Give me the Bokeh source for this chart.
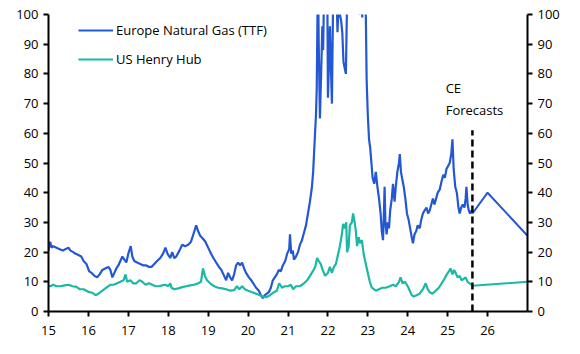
from bokeh.plotting import figure
from bokeh.models import Range1d, LinearAxis, FixedTicker, Legend, LegendItem
from bokeh.core.properties import value
from bokeh.embed import file_html
from bokeh.resources import INLINE

# ---- data (decimal years, EUR/MWh) ----
ttf_t = [2015.00, 2015.04, 2015.08, 2015.12, 2015.20, 2015.28, 2015.36, 2015.42, 2015.50, 2015.55,
         2015.62, 2015.67, 2015.75, 2015.82, 2015.88, 2015.95, 2016.02, 2016.08, 2016.15, 2016.22,
         2016.28, 2016.35, 2016.42, 2016.50, 2016.55, 2016.60, 2016.65, 2016.70, 2016.75, 2016.80,
         2016.85, 2016.90, 2016.95, 2017.00, 2017.06, 2017.10, 2017.15, 2017.22, 2017.30, 2017.38,
         2017.45, 2017.52, 2017.58, 2017.65, 2017.72, 2017.80, 2017.87, 2017.93, 2017.98, 2018.05,
         2018.10, 2018.15, 2018.20, 2018.28, 2018.35, 2018.42, 2018.50, 2018.57, 2018.63, 2018.70,
         2018.75, 2018.80, 2018.87, 2018.93, 2019.00, 2019.07, 2019.13, 2019.20, 2019.27, 2019.33,
         2019.40, 2019.45, 2019.50, 2019.55, 2019.60, 2019.65, 2019.70, 2019.75, 2019.80, 2019.85,
         2019.90, 2019.95, 2020.02, 2020.08, 2020.13, 2020.20, 2020.27, 2020.32, 2020.37, 2020.42,
         2020.47, 2020.52, 2020.57, 2020.62, 2020.67, 2020.72, 2020.77, 2020.82, 2020.87, 2020.93,
         2020.98, 2021.03, 2021.05, 2021.08, 2021.12, 2021.15, 2021.20, 2021.25, 2021.30, 2021.35,
         2021.40, 2021.45, 2021.50, 2021.55, 2021.60, 2021.63, 2021.67, 2021.70, 2021.72, 2021.75,
         2021.77, 2021.80, 2021.83, 2021.86, 2021.88, 2021.90, 2021.93, 2021.96, 2021.98, 2022.00,
         2022.03, 2022.05, 2022.08, 2022.10, 2022.13, 2022.16, 2022.18, 2022.21, 2022.24, 2022.27,
         2022.30, 2022.33, 2022.36, 2022.39, 2022.42, 2022.45, 2022.48, 2022.52, 2022.56, 2022.60,
         2022.64, 2022.67, 2022.70, 2022.73, 2022.76, 2022.80, 2022.83, 2022.86, 2022.90, 2022.94,
         2022.97, 2023.00, 2023.03, 2023.06, 2023.09, 2023.12, 2023.16, 2023.20, 2023.24, 2023.28,
         2023.32, 2023.35, 2023.38, 2023.40, 2023.42, 2023.44, 2023.47, 2023.50, 2023.53, 2023.56,
         2023.60, 2023.63, 2023.67, 2023.70, 2023.74, 2023.78, 2023.80, 2023.83, 2023.87, 2023.90,
         2023.94, 2023.98, 2024.02, 2024.06, 2024.10, 2024.13, 2024.17, 2024.21, 2024.25, 2024.30,
         2024.34, 2024.38, 2024.42, 2024.47, 2024.51, 2024.55, 2024.59, 2024.63, 2024.67, 2024.71,
         2024.75, 2024.80, 2024.85, 2024.89, 2024.93, 2024.97, 2025.01, 2025.05, 2025.09, 2025.12,
         2025.15, 2025.19, 2025.23, 2025.27, 2025.30, 2025.34, 2025.38, 2025.42, 2025.45, 2025.47,
         2025.50, 2025.53, 2025.56, 2025.60, 2025.62]
ttf_v = [20.5, 23.5, 21.5, 22, 21.5, 21, 20.5, 21, 21.5, 20.5,
         20, 19.5, 19, 18.5, 17, 16, 13.5, 13, 12, 11.5,
         12.5, 14, 14.5, 15, 14, 11.5, 13, 14.5, 15.5, 17,
         18.5, 17.5, 16.5, 19.5, 22, 18.5, 17, 16.5, 16, 15.5,
         15.5, 15, 15, 16, 17, 18, 19.5, 21.5, 19.5, 18,
         20, 18, 18.5, 20.5, 22.5, 22, 22.5, 23.5, 26, 29,
         27, 25.5, 24.5, 23.5, 21.5, 19.5, 18, 16.5, 15, 14,
         12, 10.5, 13, 11.5, 10.5, 12.5, 15.5, 16.5, 15.5, 16.5,
         14.5, 13, 11.5, 10.5, 9.5, 8, 7, 5.5, 4.5, 5.5,
         6, 6.5, 8, 10.5, 11.5, 12.5, 14, 13.5, 15.5, 17,
         19.5, 21, 26, 19.5, 20.5, 17.5, 18.5, 20, 22.5, 24,
         26.5, 29, 33, 37, 42, 47, 58, 66, 75, 115,
         90, 65, 80, 96, 88, 105, 125, 180, 120, 72,
         85, 96, 80, 70, 105, 130, 200, 110, 94, 105,
         100, 98, 94, 84, 82, 80, 105, 150, 170, 200,
         250, 300, 220, 190, 170, 100, 120, 99, 130, 110,
         78, 66, 58, 55, 50, 45, 43, 47, 42, 38,
         33, 27, 24, 32, 42, 30, 26, 30, 28, 34,
         38, 43, 37, 42, 47, 50, 53, 47, 44, 42,
         38, 33, 31, 28, 25, 23, 26, 27, 29, 28,
         31, 33, 34, 35, 33, 34, 36, 38, 36, 38,
         40, 41, 44, 46, 45, 48, 49, 50, 53, 58,
         48, 42, 40, 35, 33, 35, 36, 35, 38, 42,
         36, 34, 33, 34, 33]

hh_t = [2015.00, 2015.05, 2015.12, 2015.20, 2015.30, 2015.40, 2015.50, 2015.60, 2015.70, 2015.78,
        2015.88, 2015.95, 2016.02, 2016.10, 2016.18, 2016.25, 2016.35, 2016.45, 2016.55, 2016.63,
        2016.72, 2016.80, 2016.88, 2016.93, 2016.97, 2017.05, 2017.12, 2017.20, 2017.28, 2017.35,
        2017.43, 2017.52, 2017.60, 2017.68, 2017.76, 2017.85, 2017.93, 2018.00, 2018.05, 2018.08,
        2018.15, 2018.25, 2018.35, 2018.45, 2018.55, 2018.65, 2018.75, 2018.82, 2018.87, 2018.92,
        2018.97, 2019.05, 2019.15, 2019.25, 2019.35, 2019.45, 2019.55, 2019.65, 2019.72, 2019.78,
        2019.85, 2019.92, 2020.00, 2020.10, 2020.20, 2020.30, 2020.38, 2020.45, 2020.55, 2020.65,
        2020.72, 2020.78, 2020.85, 2020.92, 2021.00, 2021.07, 2021.13, 2021.20, 2021.30, 2021.40,
        2021.48, 2021.55, 2021.62, 2021.68, 2021.73, 2021.77, 2021.82, 2021.87, 2021.93, 2022.00,
        2022.05, 2022.10, 2022.15, 2022.20, 2022.25, 2022.30, 2022.35, 2022.38, 2022.42, 2022.46,
        2022.48, 2022.52, 2022.55, 2022.60, 2022.63, 2022.67, 2022.70, 2022.73, 2022.77, 2022.80,
        2022.85, 2022.90, 2022.95, 2023.00, 2023.05, 2023.10, 2023.15, 2023.20, 2023.28, 2023.36,
        2023.45, 2023.55, 2023.63, 2023.70, 2023.78, 2023.82, 2023.87, 2023.93, 2024.00, 2024.05,
        2024.10, 2024.15, 2024.22, 2024.30, 2024.38, 2024.45, 2024.50, 2024.55, 2024.62, 2024.70,
        2024.78, 2024.85, 2024.92, 2024.98, 2025.03, 2025.07, 2025.12, 2025.16, 2025.20, 2025.25,
        2025.30, 2025.35, 2025.40, 2025.45, 2025.50, 2025.55, 2025.62]
hh_v = [8.7, 8.5, 9, 8.5, 8.5, 8.8, 9, 8.5, 8.3, 7.5,
        7.5, 7, 6.5, 6.3, 5.5, 6, 7, 8, 9, 9,
        9.5, 10, 10.5, 12.5, 10, 10.5, 9.5, 9.5, 10.5, 10,
        9, 9.5, 9, 8.5, 8.5, 8.8, 9, 8.5, 9.5, 8,
        7.5, 7.8, 8.2, 8.5, 8.8, 9, 9.5, 10, 14.5, 12,
        10.5, 9.5, 8.5, 8, 7.8, 7.5, 7, 7.2, 8.5, 7.5,
        8.5, 7.5, 7, 6.5, 6, 5.5, 5, 4.8, 5.5, 6.5,
        7, 9.5, 8, 8.5, 8.5, 9, 7.5, 8.5, 8.5, 9.5,
        10.5, 12, 13.5, 15, 18, 17, 16, 14, 12, 13,
        15, 13, 15, 16, 19, 22, 26, 29.5, 28, 30,
        20, 22, 29, 30, 33, 30, 27, 22, 25, 23,
        24, 19, 16, 13, 10, 8, 7.5, 7, 7.5, 8,
        8, 8.5, 9, 8.5, 10, 11.5, 9.5, 10, 8.5, 7,
        5.5, 5, 5.5, 6, 7.5, 9.5, 7.5, 6.5, 6, 7,
        8, 9.5, 11, 12.5, 13.5, 14.5, 12.5, 14, 13, 11.5,
        12, 10.5, 11, 11.5, 10, 9.5, 8.7]

# CE forecasts
ttf_fc_t = [2025.62, 2026.0, 2027.0]
ttf_fc_v = [33, 40, 25.5]
hh_fc_t = [2025.62, 2027.0]
hh_fc_v = [8.7, 10]

forecast_start = 2025.62
forecast_line_top = 61

year_ticks = list(range(2015, 2027))
year_labels = {y: str(y - 2000) for y in year_ticks}
y_ticks = list(range(0, 101, 10))

series_names = ["Europe Natural Gas (TTF)", "US Henry Hub"]
BLUE = "#2457d3"
TEAL = "#1bb8a6"
FONT = "Open Sans"

p = figure(width=580, height=354, output_backend="svg", toolbar_location=None,
           x_range=Range1d(2015, 2027), y_range=Range1d(0, 100),
           min_border_left=48, min_border_right=53, min_border_top=14, min_border_bottom=43)
p.outline_line_color = None
p.xgrid.visible = False
p.ygrid.visible = False
p.background_fill_color = "white"
p.border_fill_color = "white"

r1 = p.line(ttf_t, ttf_v, line_color=BLUE, line_width=2.2)
p.line(ttf_fc_t, ttf_fc_v, line_color=BLUE, line_width=2)
r2 = p.line(hh_t, hh_v, line_color=TEAL, line_width=2.2)
p.line(hh_fc_t, hh_fc_v, line_color=TEAL, line_width=2)

p.segment(x0=[forecast_start], y0=[0], x1=[forecast_start], y1=[forecast_line_top],
          line_color="black", line_width=2.5, line_dash="7 4")

p.text(x=[2024.95, 2024.95], y=[75.4, 68.0], text=["CE", "Forecasts"],
       text_font=value(FONT), text_font_size="13px", text_color="black",
       text_baseline="alphabetic", text_align="left")

def style_axis(ax):
    ax.axis_line_color = "black"
    ax.axis_line_width = 2
    ax.major_tick_line_color = "black"
    ax.major_tick_line_width = 2
    ax.major_tick_out = 5
    ax.major_tick_in = 0
    ax.minor_tick_line_color = None
    ax.major_label_text_font = FONT
    ax.major_label_text_font_size = "13px"
    ax.major_label_text_color = "black"

xa = p.xaxis[0]
xa.ticker = FixedTicker(ticks=year_ticks)
xa.major_label_overrides = year_labels
style_axis(xa)
xa.major_label_standoff = 9

ya = p.yaxis[0]
ya.ticker = FixedTicker(ticks=y_ticks)
style_axis(ya)
ya.major_label_standoff = 5

ra = LinearAxis(ticker=FixedTicker(ticks=y_ticks))
style_axis(ra)
ra.major_label_standoff = 5
p.add_layout(ra, "right")

legend = Legend(items=[LegendItem(label=series_names[0], renderers=[r1]),
                       LegendItem(label=series_names[1], renderers=[r2])],
                location=(30, 242))
legend.border_line_color = None
legend.background_fill_alpha = 0
legend.padding = 0
legend.margin = 0
legend.spacing = 9
legend.glyph_width = 35
legend.glyph_height = 20
legend.label_height = 20
legend.label_standoff = 3
legend.label_text_font = FONT
legend.label_text_font_size = "13px"
legend.label_text_color = "black"
p.add_layout(legend)

open("out.html", "w").write(file_html(p, INLINE))
